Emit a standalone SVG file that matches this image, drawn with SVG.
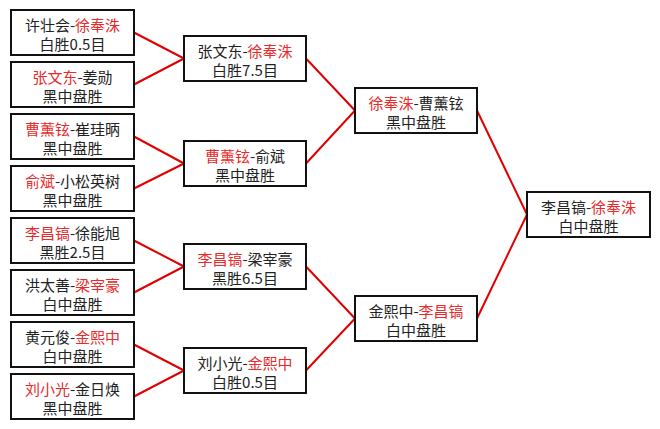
<svg xmlns="http://www.w3.org/2000/svg" width="660" height="429" viewBox="0 0 660 429">
<style>
.box{fill:#fff;stroke:#111;stroke-width:2}
.t{font-family:"Noto Sans CJK SC","Noto Sans CJK TC",sans-serif;font-size:15px;fill:#222;text-anchor:middle}
.r{fill:#e82a2a}
.c line{stroke:#e00000;stroke-width:2}
</style>
<rect width="660" height="429" fill="#fff"/>
<g class="c" id="connectors">
<line x1="134" y1="32.5" x2="184" y2="58.5"/>
<line x1="134" y1="84.5" x2="184" y2="58.5"/>
<line x1="134" y1="136.5" x2="184" y2="163.5"/>
<line x1="134" y1="188.5" x2="184" y2="163.5"/>
<line x1="134" y1="240.5" x2="184" y2="266.5"/>
<line x1="134" y1="292.5" x2="184" y2="266.5"/>
<line x1="134" y1="344.5" x2="184" y2="370.5"/>
<line x1="134" y1="396.5" x2="184" y2="370.5"/>
<line x1="306" y1="58.5" x2="355" y2="110.5"/>
<line x1="306" y1="163.5" x2="355" y2="110.5"/>
<line x1="306" y1="266.5" x2="355" y2="318.5"/>
<line x1="306" y1="370.5" x2="355" y2="318.5"/>
<line x1="477" y1="110.5" x2="527" y2="214.5"/>
<line x1="477" y1="318.5" x2="527" y2="214.5"/>
</g>
<g id="n1"><rect class="box" x="11" y="10" width="123" height="45"/><text class="t" x="72.5" y="30.5">许壮会-<tspan class="r">徐奉洙</tspan></text><text class="t" x="72.5" y="50">白胜0.5目</text></g>
<g id="n2"><rect class="box" x="11" y="62" width="123" height="45"/><text class="t" x="72.5" y="82.5"><tspan class="r">张文东</tspan>-姜勋</text><text class="t" x="72.5" y="102">黑中盘胜</text></g>
<g id="n3"><rect class="box" x="11" y="114" width="123" height="45"/><text class="t" x="72.5" y="134.5"><tspan class="r">曹薰铉</tspan>-崔珪昞</text><text class="t" x="72.5" y="154">黑中盘胜</text></g>
<g id="n4"><rect class="box" x="11" y="166" width="123" height="45"/><text class="t" x="72.5" y="186.5"><tspan class="r">俞斌</tspan>-小松英树</text><text class="t" x="72.5" y="206">黑中盘胜</text></g>
<g id="n5"><rect class="box" x="11" y="218" width="123" height="45"/><text class="t" x="72.5" y="238.5"><tspan class="r">李昌镐</tspan>-徐能旭</text><text class="t" x="72.5" y="258">黑胜2.5目</text></g>
<g id="n6"><rect class="box" x="11" y="270" width="123" height="45"/><text class="t" x="72.5" y="290.5">洪太善-<tspan class="r">梁宰豪</tspan></text><text class="t" x="72.5" y="310">白中盘胜</text></g>
<g id="n7"><rect class="box" x="11" y="322" width="123" height="45"/><text class="t" x="72.5" y="342.5">黄元俊-<tspan class="r">金熙中</tspan></text><text class="t" x="72.5" y="362">白中盘胜</text></g>
<g id="n8"><rect class="box" x="11" y="374" width="123" height="45"/><text class="t" x="72.5" y="394.5"><tspan class="r">刘小光</tspan>-金日焕</text><text class="t" x="72.5" y="414">黑中盘胜</text></g>
<g id="m1"><rect class="box" x="184" y="36" width="122" height="45"/><text class="t" x="245" y="56.5">张文东-<tspan class="r">徐奉洙</tspan></text><text class="t" x="245" y="76">白胜7.5目</text></g>
<g id="m2"><rect class="box" x="184" y="141" width="122" height="45"/><text class="t" x="245" y="161.5"><tspan class="r">曹薰铉</tspan>-俞斌</text><text class="t" x="245" y="181">黑中盘胜</text></g>
<g id="m3"><rect class="box" x="184" y="244" width="122" height="45"/><text class="t" x="245" y="264.5"><tspan class="r">李昌镐</tspan>-梁宰豪</text><text class="t" x="245" y="284">黑胜6.5目</text></g>
<g id="m4"><rect class="box" x="184" y="348" width="122" height="45"/><text class="t" x="245" y="368.5">刘小光-<tspan class="r">金熙中</tspan></text><text class="t" x="245" y="388">白胜0.5目</text></g>
<g id="s1"><rect class="box" x="355" y="88" width="122" height="45"/><text class="t" x="416" y="108.5"><tspan class="r">徐奉洙</tspan>-曹薰铉</text><text class="t" x="416" y="128">黑中盘胜</text></g>
<g id="s2"><rect class="box" x="355" y="296" width="122" height="45"/><text class="t" x="416" y="316.5">金熙中-<tspan class="r">李昌镐</tspan></text><text class="t" x="416" y="336">白中盘胜</text></g>
<g id="f"><rect class="box" x="527" y="192" width="123" height="45"/><text class="t" x="588.5" y="212.5">李昌镐-<tspan class="r">徐奉洙</tspan></text><text class="t" x="588.5" y="232">白中盘胜</text></g>
</svg>
